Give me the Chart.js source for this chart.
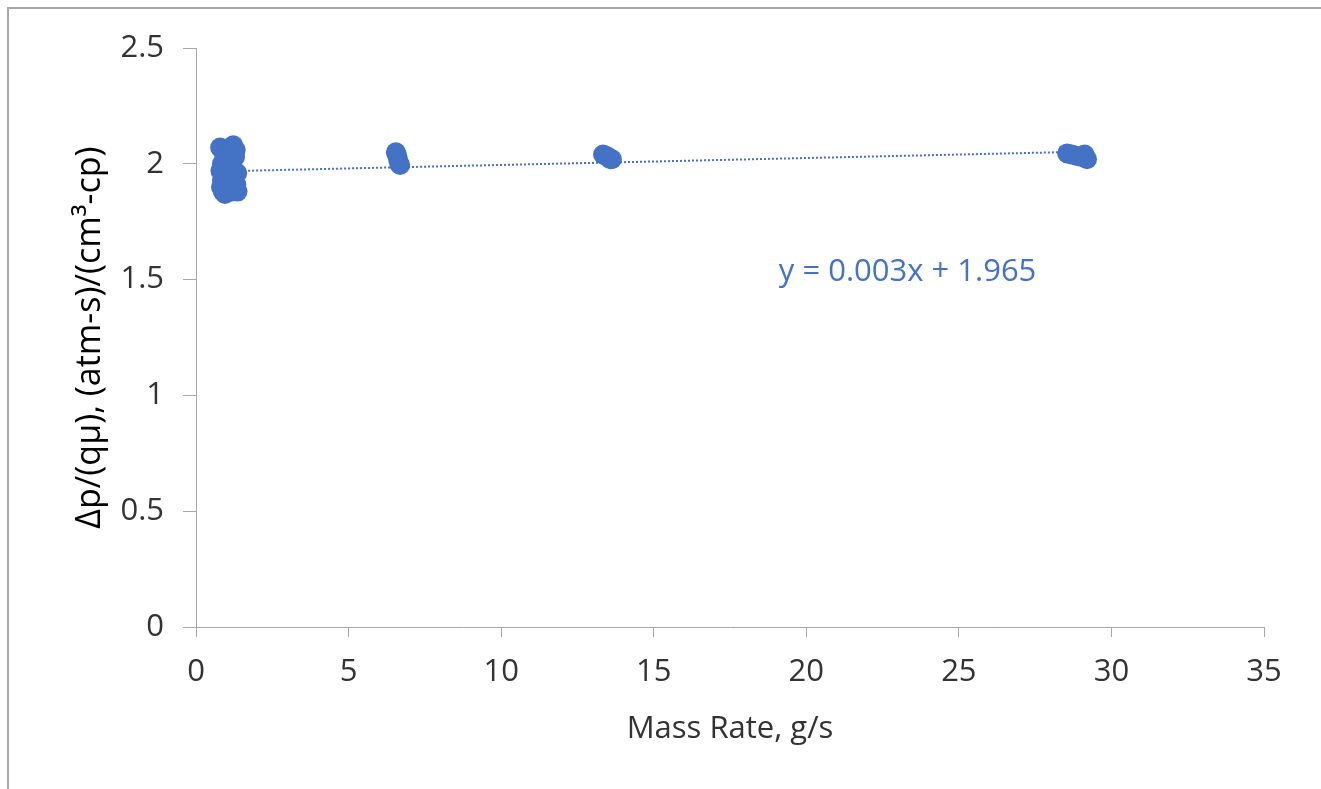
<!DOCTYPE html>
<html>
<head>
<meta charset="utf-8">
<script src="https://cdn.jsdelivr.net/npm/chart.js@4/dist/chart.umd.min.js"></script>
<style>
  html, body { margin: 0; padding: 0; background: #fff; }
  #wrap { position: relative; width: 1321px; height: 789px; overflow: hidden; }
  #frame { position: absolute; left: 7px; top: 7px; width: 1400px; height: 900px;
           border-top: 2px solid #a6a6a6; border-left: 2px solid #a6a6a6; pointer-events: none; }
  canvas { position: absolute; left: 0; top: 0; }
</style>
</head>
<body>
<div id="wrap">
  <canvas id="c" width="1321" height="789"></canvas>
  <div id="frame"></div>
</div>
<script>
// ---- data ----
const massRate = [
  0.79, 0.82, 0.85, 0.88, 0.92, 0.95, 0.98, 1.02, 1.05, 1.08, 1.12, 1.15, 1.18, 1.22, 1.25, 1.28, 1.32, 1.36,
  0.80, 0.90, 1.00, 1.10, 1.20, 1.30, 0.85, 1.05, 1.25, 0.95, 1.15, 1.35,
  6.55, 6.58, 6.62, 6.66, 6.69,
  13.34, 13.42, 13.5, 13.58, 13.63,
  28.55, 28.7, 28.85, 29.0, 29.12, 29.2
];
const dpRatio = [
  2.07, 1.90, 2.00, 1.88, 2.04, 1.87, 1.95, 2.06, 1.89, 2.01, 1.93, 2.05, 1.88, 2.08, 1.97, 2.03, 1.91, 1.88,
  1.97, 1.99, 2.02, 1.94, 1.99, 2.06, 1.93, 1.98, 1.92, 2.02, 2.00, 1.96,
  2.05, 2.04, 2.02, 2.00, 1.995,
  2.04, 2.035, 2.03, 2.02, 2.02,
  2.045, 2.04, 2.035, 2.03, 2.04, 2.02
];
const trendSlope = 0.003;
const trendIntercept = 1.965;
const trendRange = [0.79, 29.2];
const xTicks = [0, 5, 10, 15, 20, 25, 30, 35];
const yTicks = [0, 0.5, 1, 1.5, 2, 2.5];
const equationText = "y = 0.003x + 1.965";
const equationPos = [19.1, 1.533];
const xTitle = "Mass Rate, g/s";
const yTitle = "Δp/(qμ), (atm-s)/(cm³-cp)";

// ---- chart ----
const blue = "#4472C4";
const FONT = "'Open Sans', 'Noto Sans', sans-serif";
const FS = 31;
const points = massRate.map((x, i) => ({ x, y: dpRatio[i] }));
const trend = trendRange.map(x => ({ x, y: trendSlope * x + trendIntercept }));

const eqPlugin = {
  id: 'eq',
  afterDatasetsDraw(chart) {
    const { ctx, scales } = chart;
    ctx.save();
    ctx.font = "31px " + FONT;
    ctx.fillStyle = blue;
    ctx.textAlign = "left";
    ctx.textBaseline = "middle";
    ctx.fillText(equationText, scales.x.getPixelForValue(equationPos[0]), scales.y.getPixelForValue(equationPos[1]));
    ctx.restore();
  }
};

new Chart(document.getElementById('c'), {
  type: 'scatter',
  data: {
    datasets: [
      { data: points, backgroundColor: blue, borderColor: blue, pointRadius: 10, pointHoverRadius: 10, borderWidth: 0, order: 1 },
      { type: 'line', data: trend, borderColor: blue, borderWidth: 2, borderDash: [2, 2], pointRadius: 0, fill: false, order: 2 }
    ]
  },
  options: {
    responsive: false,
    animation: false,
    events: [],
    layout: { padding: { left: 70, right: 57, top: 48, bottom: 41 } },
    plugins: { legend: { display: false }, tooltip: { enabled: false } },
    scales: {
      x: {
        type: 'linear', min: 0, max: 35,
        afterBuildTicks(s) { s.ticks = xTicks.map(v => ({ value: v })); },
        afterFit(s) { s.height = 121; },
        grid: { display: true, drawOnChartArea: false, drawTicks: true, tickLength: 10, color: '#a6a6a6', lineWidth: 1 },
        border: { display: true, color: '#a6a6a6', width: 1 },
        ticks: { color: '#333333', font: { family: FONT, size: FS }, padding: 17, callback: v => String(v) },
        title: { display: true, text: xTitle, color: '#333333', font: { family: FONT, size: FS }, padding: 0 }
      },
      y: {
        type: 'linear', min: 0, max: 2.5,
        afterBuildTicks(s) { s.ticks = yTicks.map(v => ({ value: v })); },
        afterFit(s) { s.width = 126; },
        grid: { display: true, drawOnChartArea: false, drawTicks: true, tickLength: 13, color: '#a6a6a6', lineWidth: 1 },
        border: { display: true, color: '#a6a6a6', width: 1 },
        ticks: { color: '#333333', font: { family: FONT, size: FS }, padding: 19, callback: v => String(v) },
        title: { display: true, text: yTitle, color: '#000000', font: { family: FONT, size: 34 }, padding: 0 }
      }
    }
  },
  plugins: [eqPlugin]
});
</script>
</body>
</html>
